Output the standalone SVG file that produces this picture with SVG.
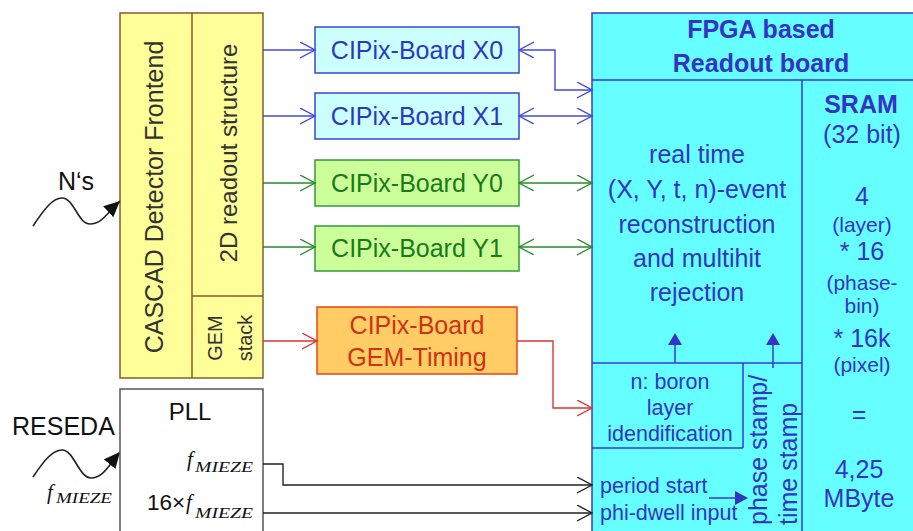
<svg xmlns="http://www.w3.org/2000/svg" width="913" height="531" viewBox="0 0 913 531">
<style>
text{font-family:"Liberation Sans",Arial,sans-serif;}
.serif{font-family:"Liberation Serif","Times New Roman",serif;font-style:italic;}
.yel{fill:#ffff99;stroke:#8b5a2b;stroke-width:1.5;}
.ylin{stroke:#8b5a2b;stroke-width:1.5;}
.fp{fill:#66ffff;stroke:#3a3ad0;stroke-width:1.5;}
.fpl{stroke:#3a3ad0;stroke-width:1.5;fill:none;}
.fpt{fill:#3434c4;text-anchor:middle;}
.bx{fill:#ccffff;stroke:#3a48d0;stroke-width:1.5;}
.gx{fill:#ccff99;stroke:#33993a;stroke-width:1.5;}
.ox{fill:#ffcc66;stroke:#ee4411;stroke-width:1.5;}
.bt{fill:#2a3ac0;font-size:25px;text-anchor:middle;}
.gt{fill:#1a7a1a;font-size:25px;text-anchor:middle;}
.ot{fill:#cc3311;font-size:25px;text-anchor:middle;}
.cb{stroke:#4048dd;stroke-width:1.4;fill:none;}
.cg{stroke:#2a8a2a;stroke-width:1.4;fill:none;}
.cr{stroke:#dd3333;stroke-width:1.4;fill:none;}
.ck{stroke:#222;stroke-width:1.4;fill:none;}
.wave{stroke:#222;stroke-width:1.6;fill:none;}
</style>
<defs>
<marker id="mb" markerUnits="userSpaceOnUse" markerWidth="17" markerHeight="18" refX="15" refY="8" orient="auto-start-reverse"><path d="M0,0 L15,8 L0,16" fill="none" stroke="#4048dd" stroke-width="1.4"/></marker>
<marker id="mg" markerUnits="userSpaceOnUse" markerWidth="17" markerHeight="18" refX="15" refY="8" orient="auto-start-reverse"><path d="M0,0 L15,8 L0,16" fill="none" stroke="#2a8a2a" stroke-width="1.4"/></marker>
<marker id="mr" markerUnits="userSpaceOnUse" markerWidth="17" markerHeight="18" refX="15" refY="8" orient="auto-start-reverse"><path d="M0,0 L15,8 L0,16" fill="none" stroke="#dd3333" stroke-width="1.4"/></marker>
<marker id="mk" markerUnits="userSpaceOnUse" markerWidth="17" markerHeight="18" refX="15" refY="8" orient="auto-start-reverse"><path d="M0,0 L15,8 L0,16" fill="none" stroke="#222" stroke-width="1.4"/></marker>
<marker id="mf" markerUnits="userSpaceOnUse" markerWidth="18" markerHeight="16" refX="16" refY="7.5" orient="auto"><path d="M0,0 L16,7.5 L0,15 z" fill="#111"/></marker>
</defs>

<rect width="913" height="531" fill="#ffffff"/>

<g id="detector">
<rect class="yel" x="120" y="13" width="143" height="365"/>
<line class="ylin" x1="192" y1="13" x2="192" y2="378"/>
<line class="ylin" x1="192" y1="296" x2="263" y2="296"/>
<text transform="translate(163,197) rotate(-90)" font-size="25" fill="#333" text-anchor="middle">CASCAD Detector Frontend</text>
<text transform="translate(237,153) rotate(-90)" font-size="24" fill="#333" text-anchor="middle">2D readout structure</text>
<text transform="translate(222,338) rotate(-90)" font-size="20" fill="#333" text-anchor="middle">GEM</text>
<text transform="translate(252,338) rotate(-90)" font-size="20" fill="#333" text-anchor="middle">stack</text>
</g>

<g id="neutrons">
<text x="58" y="190" font-size="25" fill="#111">N‘s</text>
<path class="wave" d="M33,226 C45,208 53,198 62,198 C74,198 78,224 90,224 C102,224 108,212 120,201" marker-end="url(#mf)"/>
</g>

<g id="reseda">
<text x="12" y="435" font-size="25" fill="#111">RESEDA</text>
<path class="wave" d="M33,477 C45,459 53,450 62,450 C74,450 79,478 91,478 C103,478 109,465 120,452" marker-end="url(#mf)"/>
<text class="serif" x="47" y="499" font-size="21" fill="#111">f</text>
<text class="serif" x="56" y="503" font-size="14" fill="#111" textLength="56" lengthAdjust="spacingAndGlyphs">MIEZE</text>
</g>

<g id="pll">
<rect x="120" y="389" width="143" height="160" fill="#ffffff" stroke="#555" stroke-width="1.5"/>
<text x="190" y="420" font-size="24" fill="#111" text-anchor="middle">PLL</text>
<text class="serif" x="187" y="466" font-size="21" fill="#111">f</text>
<text class="serif" x="195" y="472" font-size="14" fill="#111" textLength="58" lengthAdjust="spacingAndGlyphs">MIEZE</text>
<text x="147" y="510" font-size="22.5" fill="#111">16×</text>
<text class="serif" x="186" y="509" font-size="21" fill="#111">f</text>
<text class="serif" x="195" y="518" font-size="14" fill="#111" textLength="58" lengthAdjust="spacingAndGlyphs">MIEZE</text>
</g>

<g id="boardX0">
<rect class="bx" x="315" y="27" width="204" height="46"/>
<text class="bt" x="417" y="59">CIPix-Board X0</text>
</g>
<g id="boardX1">
<rect class="bx" x="315" y="93" width="204" height="46"/>
<text class="bt" x="417" y="125">CIPix-Board X1</text>
</g>
<g id="boardY0">
<rect class="gx" x="315" y="160" width="204" height="46"/>
<text class="gt" x="417" y="192">CIPix-Board Y0</text>
</g>
<g id="boardY1">
<rect class="gx" x="315" y="226" width="204" height="45"/>
<text class="gt" x="417" y="257">CIPix-Board Y1</text>
</g>
<g id="boardGEM">
<rect class="ox" x="317" y="307" width="200" height="67"/>
<text class="ot" x="417" y="334">CIPix-Board</text>
<text class="ot" x="417" y="366">GEM-Timing</text>
</g>

<g id="fpga">
<rect class="fp" x="592" y="13" width="340" height="540"/>
<line class="fpl" x1="592" y1="80" x2="913" y2="80"/>
<line class="fpl" x1="802" y1="80" x2="802" y2="531"/>
<line class="fpl" x1="592" y1="363" x2="802" y2="363"/>
<line class="fpl" x1="743" y1="363" x2="743" y2="448"/>
<line class="fpl" x1="592" y1="448" x2="743" y2="448"/>
<text class="fpt" x="761" y="38" font-size="25" font-weight="bold">FPGA based</text>
<text class="fpt" x="761" y="72" font-size="25" font-weight="bold">Readout board</text>
<text class="fpt" x="697" y="163" font-size="25">real time</text>
<text class="fpt" x="697" y="198" font-size="25">(X, Y, t, n)-event</text>
<text class="fpt" x="697" y="233" font-size="25">reconstruction</text>
<text class="fpt" x="697" y="267" font-size="25">and multihit</text>
<text class="fpt" x="697" y="301" font-size="25">rejection</text>
<text class="fpt" x="861" y="113" font-size="25" font-weight="bold">SRAM</text>
<text class="fpt" x="862" y="143" font-size="25">(32 bit)</text>
<text class="fpt" x="862" y="205" font-size="25">4</text>
<text class="fpt" x="862" y="232" font-size="21">(layer)</text>
<text class="fpt" x="862" y="260" font-size="25">* 16</text>
<text class="fpt" x="862" y="290" font-size="21">(phase-</text>
<text class="fpt" x="862" y="313" font-size="21">bin)</text>
<text class="fpt" x="862" y="347" font-size="25">* 16k</text>
<text class="fpt" x="862" y="372" font-size="21">(pixel)</text>
<text class="fpt" x="859" y="423" font-size="25">=</text>
<text class="fpt" x="859" y="478" font-size="25">4,25</text>
<text class="fpt" x="859" y="507" font-size="25">MByte</text>
<text class="fpt" x="670" y="389" font-size="21.5">n: boron</text>
<text class="fpt" x="670" y="415" font-size="21.5">layer</text>
<text class="fpt" x="670" y="441" font-size="21.5">idendification</text>
<text x="600" y="493" font-size="21.5" fill="#3434c4">period start</text>
<text x="600" y="520" font-size="21.5" fill="#3434c4">phi-dwell input</text>
<text transform="translate(767,525) rotate(-90)" font-size="25" fill="#3434c4">phase stamp/</text>
<text transform="translate(797,525) rotate(-90)" font-size="25" fill="#3434c4">time stamp</text>
<line class="fpl" x1="675" y1="363" x2="675" y2="344"/>
<polygon points="668,345 682,345 675,333" fill="#3434c4"/>
<line class="fpl" x1="773" y1="368" x2="773" y2="344"/>
<polygon points="766,345 780,345 773,333" fill="#3434c4"/>
<line class="fpl" x1="709" y1="498" x2="736" y2="498"/>
<polygon points="735,491 735,505 748,498" fill="#3434c4"/>
</g>

<g id="connectors">
<path class="cb" d="M263,50 H315" marker-end="url(#mb)"/>
<path class="cb" d="M519,50 H555 V90 H592" marker-start="url(#mb)" marker-end="url(#mb)"/>
<path class="cb" d="M263,116 H315" marker-end="url(#mb)"/>
<path class="cb" d="M519,116 H592" marker-start="url(#mb)" marker-end="url(#mb)"/>
<path class="cg" d="M263,183 H315" marker-end="url(#mg)"/>
<path class="cg" d="M519,183 H592" marker-start="url(#mg)" marker-end="url(#mg)"/>
<path class="cg" d="M263,247 H315" marker-end="url(#mg)"/>
<path class="cg" d="M519,247 H592" marker-start="url(#mg)" marker-end="url(#mg)"/>
<path class="cr" d="M263,341 H317" marker-end="url(#mr)"/>
<path class="cr" d="M517,341 H553 V408 H592" marker-end="url(#mr)"/>
<path class="ck" d="M263,464 H283 V485 H592" marker-end="url(#mk)"/>
<path class="ck" d="M263,513 H592" marker-end="url(#mk)"/>
</g>
</svg>
